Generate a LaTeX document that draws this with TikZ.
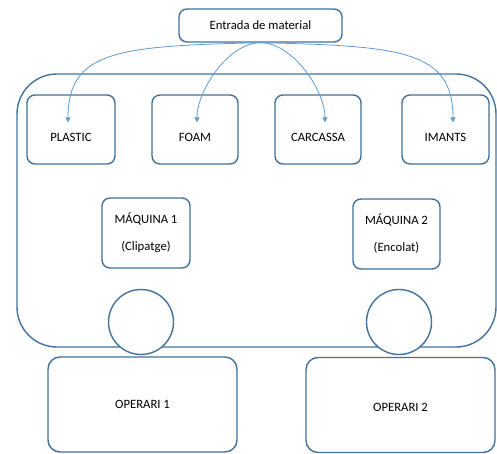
\documentclass[tikz,border=0pt]{standalone}
\usepackage{fontspec}
\setmainfont{Carlito}
\usetikzlibrary{arrows.meta}
\definecolor{edgeblue}{HTML}{41719C}
\definecolor{flowblue}{HTML}{5B9BD5}
\newcommand{\lowtext}[2]{\raisebox{#1}[0pt][0pt]{#2}}
\tikzset{
  box/.style={draw=edgeblue, line width=1.4pt, rounded corners=8pt, fill=white,
    align=center, font=\fontsize{12.7}{15}\selectfont, inner sep=0pt},
  frame/.style={draw=edgeblue, line width=1.4pt, rounded corners=40pt, inner sep=0pt},
  tool/.style={draw=edgeblue, line width=1.4pt, circle, fill=white,
    minimum size=65pt, inner sep=0pt},
  flow/.style={draw=flowblue, line width=0.8pt, -{Triangle[width=5pt,length=5pt]}}
}

\begin{document}
\begin{tikzpicture}[x=1pt, y=-1pt]
\useasboundingbox (0,0) rectangle (497,454);

% planta
\node[frame, minimum width=479pt, minimum height=273pt] (planta) at (256.5,210.5) {};

% entrada
\node[box, minimum width=163pt, minimum height=33pt] (entrada) at (260.5,25.5) {Entrada de material};

% materials
\node[box, minimum width=88pt, minimum height=69pt] (plastic) at (71,129.5) {\lowtext{-12.5pt}{PLASTIC}};
\node[box, minimum width=86pt, minimum height=69pt] (foam) at (195,129.5) {\lowtext{-12.5pt}{FOAM}};
\node[box, minimum width=86pt, minimum height=69pt] (carcassa) at (318,129.5) {\lowtext{-12.5pt}{CARCASSA}};
\node[box, minimum width=87pt, minimum height=69pt] (imants) at (445.5,129.5) {\lowtext{-12.5pt}{IMANTS}};

% maquines
\node[box, minimum width=88pt, minimum height=70pt] (maq1) at (146,233) {MÁQUINA 1\\[12pt](Clipatge)};
\node[box, minimum width=87pt, minimum height=70pt] (maq2) at (396.5,234) {MÁQUINA 2\\[12pt](Encolat)};

% eines
\node[tool] (eina1) at (141,322) {};
\node[tool] (eina2) at (399,322) {};

% operaris
\node[box, rounded corners=12pt, minimum width=189pt, minimum height=95pt] (op1) at (142.5,404.5) {OPERARI 1};
\node[box, rounded corners=12pt, minimum width=189pt, minimum height=95pt] (op2) at (400.5,405) {\lowtext{-6pt}{OPERARI 2}};

% fletxes
\draw[flow] (entrada.south) .. controls (120,46) and (68,50) .. ([yshift=-28pt]plastic.north -| 68,0);
\draw[flow] (entrada.south) to[out=180, in=90, looseness=0.8] ([yshift=-28pt]foam.north -| 197,0);
\draw[flow] (entrada.south) to[out=0, in=90, looseness=0.8] ([yshift=-28pt]carcassa.north -| 325,0);
\draw[flow] (entrada.south) .. controls (400,46) and (453,50) .. ([yshift=-28pt]imants.north -| 453,0);

\end{tikzpicture}
\end{document}
